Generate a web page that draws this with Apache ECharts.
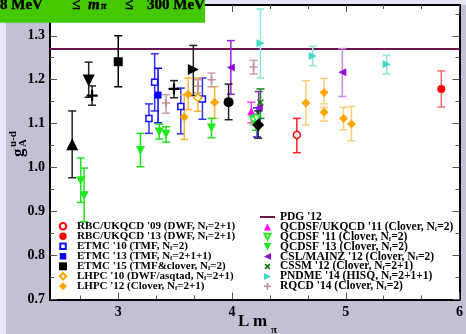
<!DOCTYPE html>
<html><head><meta charset="utf-8">
<script src="https://cdn.jsdelivr.net/npm/echarts@6/dist/echarts.min.js"></script>
<style>html,body{margin:0;padding:0;background:#e6e6fa}#c{width:466px;height:334px}</style>
</head><body><div id="c"></div>
<script>
// Each point: [L*m_pi, g_A, lower end of error bar, upper end of error bar]
const rbc09 = [[4.57, 1.074, 1.034, 1.112]];
const rbc13 = [[5.84, 1.179, 1.138, 1.220]];
const etmc10 = [[3.27, 1.112, 1.078, 1.145], [3.32, 1.194, 1.129, 1.259], [3.55, 1.139, 1.077, 1.181], [3.74, 1.156, 1.110, 1.204], [4.22, 1.103, 1.070, 1.136]];
const etmc13 = [[3.35, 1.165, 1.102, 1.226]];
const etmc15 = [[3.00, 1.241, 1.184, 1.300]];
const lhpc10 = [[3.70, 1.159, 1.128, 1.204]];
const lhpc12 = [[3.58, 1.115, 1.064, 1.166], [3.615, 1.167, 1.132, 1.204], [3.847, 1.149, 1.112, 1.184], [4.65, 1.147, 1.097, 1.198], [4.81, 1.171, 1.145, 1.203], [4.81, 1.126, 1.106, 1.137], [4.98, 1.112, 1.086, 1.137], [5.05, 1.099, 1.061, 1.139]];
const pdg12 = 1.2701;
const qcdsfUkqcd11 = [[4.17, 1.128, 1.102, 1.149]];
const qcdsf11 = [[4.19, 1.108, 1.098, 1.118], [4.215, 1.112, 1.102, 1.122]];
const qcdsf13 = [[2.67, 0.970, 0.921, 1.022], [2.70, 0.936, 0.877, 0.999], [3.195, 1.039, 1.002, 1.078], [3.36, 1.081, 1.065, 1.099], [3.42, 1.076, 1.058, 1.093], [3.82, 1.090, 1.068, 1.112], [4.21, 1.097, 1.085, 1.110]];
const cslMainz12 = [[3.99, 1.228, 1.167, 1.289], [4.235, 1.137, 1.100, 1.173], [4.97, 1.217, 1.162, 1.271]];
const cssm12 = [[4.25, 1.148, 1.112, 1.179]];
const pndme14 = [[4.25, 1.283, 1.204, 1.361], [4.71, 1.254, 1.232, 1.276], [5.36, 1.235, 1.213, 1.256]];
const rqcd14 = [[3.42, 1.147, 1.124, 1.166], [3.70, 1.185, 1.170, 1.200], [3.82, 1.200, 1.184, 1.215], [4.19, 1.229, 1.213, 1.244]];
// further ensembles drawn in black
const blackUp = [[2.595, 1.053, 0.977, 1.129]];
const blackDown = [[2.74, 1.198, 1.160, 1.240]];
const blackPlus = [[2.77, 1.164, 1.142, 1.186], [3.49, 1.179, 1.159, 1.198]];
const blackRight = [[3.66, 1.223, 1.164, 1.278]];
const blackCircle = [[3.97, 1.149, 1.109, 1.190]];
const blackDiamond = [[4.23, 1.097, 1.067, 1.129]];

const xMajor = [3, 4, 5, 6];
const xMinor = [2.6667, 3.3333, 3.6667, 4.3333, 4.6667, 5.3333, 5.6667];
const yMajor = [0.7, 0.8, 0.9, 1.0, 1.1, 1.2, 1.3];
const yMinor = [0.75, 0.85, 0.95, 1.05, 1.15, 1.25, 1.35];

const SERIF = "'Liberation Serif', 'Times New Roman', serif";
const TRI_DOWN = 'path://M0,0 L10,0 L5,10 Z';
const TRI_LEFT = 'path://M10,0 L10,10 L0,5 Z';
const TRI_RIGHT = 'path://M0,0 L10,5 L0,10 Z';
const PLUS = 'path://M4,0 H6 V4 H10 V6 H6 V10 H4 V6 H0 V4 H4 Z';
const CROSS = 'path://M1.4,0 L5,3.6 L8.6,0 L10,1.4 L6.4,5 L10,8.6 L8.6,10 L5,6.4 L1.4,10 L0,8.6 L3.6,5 L0,1.4 Z';

const groups = [
  { name: "RBC/UKQCD '09 (DWF, Nf=2+1)", data: rbc09, color: '#ff0000', bar: '#ff2020', symbol: 'circle', size: 7, open: true, icon: ['circle', 6.5] },
  { name: "RBC/UKQCD '13 (DWF, Nf=2+1)", data: rbc13, color: '#ff0000', bar: '#f07070', symbol: 'circle', size: 8, icon: ['circle', 7.5] },
  { name: "ETMC '10 (TMF, Nf=2)", data: etmc10, color: '#1010ff', bar: '#3030ff', symbol: 'rect', size: 6, open: true, icon: ['rect', 5.5] },
  { name: "ETMC '13 (TMF, Nf=2+1+1)", data: etmc13, color: '#0000ff', bar: '#0000ff', symbol: 'rect', size: 7, icon: ['rect', 6.5] },
  { name: "ETMC '15 (TMF&clover, Nf=2)", data: etmc15, color: '#000000', bar: '#000000', symbol: 'rect', size: 9, icon: ['rect', 8] },
  { name: "LHPC '10 (DWF/asqtad, Nf=2+1)", data: lhpc10, color: '#ffa500', bar: '#ffb43c', symbol: 'diamond', size: 8, open: true, icon: ['diamond', 6.5] },
  { name: "LHPC '12 (Clover, Nf=2+1)", data: lhpc12, color: '#ffa500', bar: '#ffb43c', symbol: 'diamond', size: 9, faded: [3, 4, 5, 6, 7], fadedBar: '#ffcc77', icon: ['diamond', 8] },
  { name: "QCDSF/UKQCD '11 (Clover, Nf=2)", data: qcdsfUkqcd11, color: '#ff00ff', bar: '#ff40ff', symbol: 'triangle', size: 8, icon: ['triUp', 7] },
  { name: "QCDSF '11 (Clover, Nf=2)", data: qcdsf11, color: '#22ee22', bar: '#55ee55', symbol: TRI_DOWN, size: 7, open: true, icon: ['triDown', 6] },
  { name: "QCDSF '13 (Clover, Nf=2)", data: qcdsf13, color: '#1ee81e', bar: '#22e022', symbol: TRI_DOWN, size: 9, icon: ['triDown', 7.5] },
  { name: "CSL/MAINZ '12 (Clover, Nf=2)", data: cslMainz12, color: '#9010d0', bar: '#9a20d8', symbol: TRI_LEFT, size: 8, faded: [2], fadedBar: '#cc88e8', icon: ['triLeft', 7] },
  { name: "CSSM '12 (Clover, Nf=2+1)", data: cssm12, color: '#0a7a0a', bar: '#1a8a1a', symbol: CROSS, size: 7, icon: ['cross', 6] },
  { name: "PNDME '14 (HISQ, Nf=2+1+1)", data: pndme14, color: '#40d8c8', bar: '#8ce8e0', symbol: TRI_RIGHT, size: 8, icon: ['triRight', 7] },
  { name: "RQCD '14 (Clover, Nf=2)", data: rqcd14, color: '#c09090', bar: '#c8a0a0', symbol: PLUS, size: 8, icon: ['plus', 7] },
  { name: 'blackUp', data: blackUp, color: '#000', bar: '#222', symbol: 'triangle', size: 12 },
  { name: 'blackDown', data: blackDown, color: '#000', bar: '#222', symbol: TRI_DOWN, size: 12 },
  { name: 'blackPlus', data: blackPlus, color: '#000', bar: '#222', symbol: PLUS, size: 11 },
  { name: 'blackRight', data: blackRight, color: '#000', bar: '#222', symbol: TRI_RIGHT, size: 11 },
  { name: 'blackCircle', data: blackCircle, color: '#000', bar: '#222', symbol: 'circle', size: 10 },
  { name: 'blackDiamond', data: blackDiamond, color: '#000', bar: '#222', symbol: 'diamond', size: 12 }
];

const ROW = 9.7;           // text line height inside the legends
const ICON_H = 8;          // legend icon box height
const LW = 18, RW = 15;    // icon box widths of the two legend columns

// Legend glyph drawn inside a fixed W x H box so every icon keeps its own size.
function iconPath(kind, s, W, H) {
  const cx = W / 2, cy = H / 2, r = s / 2, t = s * 0.11;
  let p;
  switch (kind) {
    case 'circle': p = `M${cx - r},${cy} A${r},${r} 0 1 1 ${cx + r},${cy} A${r},${r} 0 1 1 ${cx - r},${cy} Z`; break;
    case 'rect': p = `M${cx - r},${cy - r} L${cx + r},${cy - r} L${cx + r},${cy + r} L${cx - r},${cy + r} Z`; break;
    case 'diamond': p = `M${cx},${cy - r} L${cx + r},${cy} L${cx},${cy + r} L${cx - r},${cy} Z`; break;
    case 'triUp': p = `M${cx},${cy - r} L${cx + r},${cy + r} L${cx - r},${cy + r} Z`; break;
    case 'triDown': p = `M${cx - r},${cy - r} L${cx + r},${cy - r} L${cx},${cy + r} Z`; break;
    case 'triLeft': p = `M${cx + r},${cy - r} L${cx + r},${cy + r} L${cx - r},${cy} Z`; break;
    case 'triRight': p = `M${cx - r},${cy - r} L${cx + r},${cy} L${cx - r},${cy + r} Z`; break;
    case 'plus': p = `M${cx - t},${cy - r} L${cx + t},${cy - r} L${cx + t},${cy - t} L${cx + r},${cy - t} L${cx + r},${cy + t} L${cx + t},${cy + t} L${cx + t},${cy + r} L${cx - t},${cy + r} L${cx - t},${cy + t} L${cx - r},${cy + t} L${cx - r},${cy - t} L${cx - t},${cy - t} Z`; break;
    case 'cross': {
      const d = 0.2 * s, q = r;
      p = `M${cx - q},${cy - q + d} L${cx - q + d},${cy - q} L${cx},${cy - d} L${cx + q - d},${cy - q} L${cx + q},${cy - q + d} L${cx + d},${cy} L${cx + q},${cy + q - d} L${cx + q - d},${cy + q} L${cx},${cy + d} L${cx - q + d},${cy + q} L${cx - q},${cy + q - d} L${cx - d},${cy} Z`;
      break;
    }
    case 'line': p = `M0,${cy - 1} L${W},${cy - 1} L${W},${cy + 1} L0,${cy + 1} Z`; break;
  }
  return `path://M0,0 M${W},${H} ` + p;
}

const legendLeft = groups.slice(0, 7).map(g => ({ name: g.name, icon: iconPath(g.icon[0], g.icon[1], LW, ICON_H) }));
const legendRight = [{ name: "PDG '12", icon: iconPath('line', 0, RW, ICON_H) }]
  .concat(groups.slice(7, 14).map(g => ({ name: g.name, icon: iconPath(g.icon[0], g.icon[1], RW, ICON_H) })));

function errorBars(g) {
  return function (params, api) {
    const x = api.value(0);
    const a = api.coord([x, api.value(3)]);
    const b = api.coord([x, api.value(2)]);
    const faded = g.faded && g.faded.indexOf(params.dataIndex) >= 0;
    const st = { stroke: faded ? g.fadedBar : g.bar, lineWidth: 1.5 };
    const w = 4;
    return {
      type: 'group', children: [
        { type: 'line', shape: { x1: a[0], y1: a[1], x2: b[0], y2: b[1] }, style: st },
        { type: 'line', shape: { x1: a[0] - w, y1: a[1], x2: a[0] + w, y2: a[1] }, style: st },
        { type: 'line', shape: { x1: b[0] - w, y1: b[1], x2: b[0] + w, y2: b[1] }, style: st }
      ]
    };
  };
}

const series = [];
series.push({
  name: "PDG '12", type: 'line', symbol: 'none', silent: true,
  data: [[2.4, pdg12], [6, pdg12]],
  lineStyle: { color: '#6a1450', width: 2 }, itemStyle: { color: '#6a1450' }, z: 1
});
groups.forEach(g => {
  series.push({
    name: g.name + ' bars', type: 'custom', data: g.data, encode: { x: 0, y: 1 },
    renderItem: errorBars(g), silent: true, z: 2
  });
});
groups.forEach(g => {
  series.push({
    name: g.name, type: 'scatter', data: g.data.map(d => [d[0], d[1]]),
    symbol: g.symbol, symbolSize: g.size, silent: true, z: 3,
    itemStyle: g.open
      ? { color: '#ffffff', borderColor: g.color, borderWidth: 1.5, opacity: 1 }
      : { color: g.color, opacity: 1 }
  });
});

function xAx(pos, vals, len, line, labels) {
  return {
    type: 'value', position: pos, min: 2.4, max: 6,
    axisLine: { show: line, onZero: false, lineStyle: { color: '#000', width: 2 } },
    axisTick: { show: true, inside: true, length: len, customValues: vals, lineStyle: { color: '#555', width: 1 } },
    axisLabel: labels
      ? { show: true, customValues: vals, color: '#000', fontFamily: SERIF, fontWeight: 'bold', fontSize: 14, margin: 6 }
      : { show: false },
    splitLine: { show: false }
  };
}
function yAx(pos, vals, len, line, labels) {
  return {
    type: 'value', position: pos, min: 0.7, max: 1.37,
    axisLine: { show: line, onZero: false, lineStyle: { color: '#000', width: 2 } },
    axisTick: { show: true, inside: true, length: len, customValues: vals, lineStyle: { color: '#555', width: 1 } },
    axisLabel: labels
      ? { show: true, customValues: vals, formatter: v => v.toFixed(1), color: '#000', fontFamily: SERIF, fontWeight: 'bold', fontSize: 14, margin: 5 }
      : { show: false },
    splitLine: { show: false }
  };
}

function legendText(name) {
  const parts = name.split('Nf');
  if (parts.length < 2) return '{t|' + name + '}';
  return '{t|' + parts[0] + 'N}{s|f}{t|' + parts[1] + '}';
}
function legendTextStyle(size) {
  return {
    color: '#000', fontFamily: SERIF, fontWeight: 'bold', fontSize: size, lineHeight: ROW,
    rich: {
      t: { fontFamily: SERIF, fontWeight: 'bold', fontSize: size, lineHeight: ROW, color: '#000' },
      s: { fontFamily: SERIF, fontWeight: 'bold', fontSize: 7, lineHeight: ROW - 4, color: '#000', padding: [4, 0, 0, 0] }
    }
  };
}

function txt(x, y, text, size, extra) {
  return { type: 'text', z: 50, silent: true, x: x, y: y,
    style: Object.assign({ text: text, fontFamily: SERIF, fontSize: size, fill: '#000', align: 'left', verticalAlign: 'middle' }, extra || {}) };
}
function rtxt(x, y, text, size) {
  const el = txt(x, y, text, size, { fontWeight: 'bold', verticalAlign: 'bottom' });
  el.rotation = Math.PI / 2;
  return el;
}

// banner: pion-mass window, each piece in a fixed-width slot
const BANNER_FONT = { fontFamily: SERIF, fontSize: 15, fontWeight: 'bold', lineHeight: 10, color: '#000000', textBorderColor: '#000000', textBorderWidth: 0.4 };
const bannerRich = {
  a: Object.assign({}, BANNER_FONT),
  w1: Object.assign({}, BANNER_FONT, { width: 72 }),
  le1: Object.assign({}, BANNER_FONT, { width: 16 }),
  m: Object.assign({}, BANNER_FONT, { fontStyle: 'italic', width: 13 }),
  p: Object.assign({}, BANNER_FONT, { fontStyle: 'italic', fontSize: 10, lineHeight: 8, padding: [2, 0, 0, 0], width: 24 }),
  le2: Object.assign({}, BANNER_FONT, { width: 22 })
};

const chart = echarts.init(document.getElementById('c'), null, { renderer: 'canvas' });
chart.setOption({
  backgroundColor: '#e6e6fa',
  animation: false,
  title: {
    text: '{w1|8 MeV}{le1|≤}{m|m}{p|π}{le2|≤}{a|300 MeV}',
    left: 0, top: 0, padding: [0, 0, 10, 0], z: 20,
    backgroundColor: '#44c800',
    textStyle: Object.assign({}, BANNER_FONT, { rich: bannerRich })
  },
  grid: { left: 50, right: 2, top: 5, bottom: 34.5, show: true, backgroundColor: '#ffffff', borderWidth: 0 },
  xAxis: [xAx('bottom', xMajor, 7, true, true), xAx('bottom', xMinor, 4, false, false),
          xAx('top', xMajor, 7, true, false), xAx('top', xMinor, 4, false, false)],
  yAxis: [yAx('left', yMajor, 7, true, true), yAx('left', yMinor, 4, false, false),
          yAx('right', yMajor, 7, true, false), yAx('right', yMinor, 4, false, false)],
  legend: [
    { data: legendLeft, orient: 'vertical', left: 53, top: 220.8, itemWidth: LW, itemHeight: ICON_H, itemGap: -1.0,
      symbolKeepAspect: true, selectedMode: false, formatter: legendText, textStyle: legendTextStyle(11), padding: 0 },
    { data: legendRight, orient: 'vertical', left: 259, top: 211, itemWidth: RW, itemHeight: ICON_H, itemGap: -2.1,
      symbolKeepAspect: true, selectedMode: false, formatter: legendText, textStyle: legendTextStyle(11.5), padding: 0 }
  ],
  graphic: [
    { type: 'rect', z: -10, silent: true, shape: { x: 6, y: 5, width: 460, height: 329 }, style: { fill: '#c2c1d3' } },
    // axis titles
    txt(238, 321.5, 'L', 17, { fontWeight: 'bold' }),
    txt(253, 321.5, 'm', 17, { fontWeight: 'bold' }),
    txt(271, 330.5, 'π', 11, { fontWeight: 'bold' }),
    rtxt(27, 157, 'g', 17),
    rtxt(19, 147, 'u-d', 11),
    rtxt(29, 147, 'A', 11)
  ],
  series: series
});
</script></body></html>
